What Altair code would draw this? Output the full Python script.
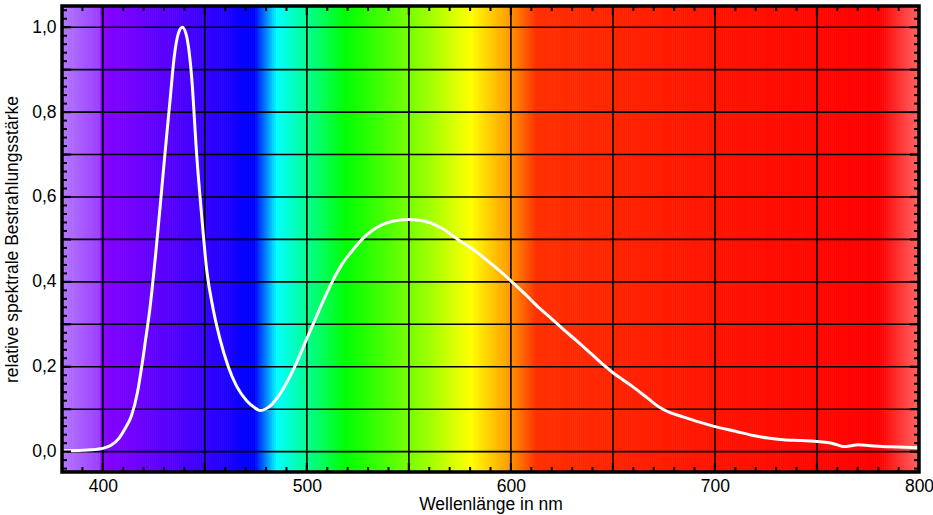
import altair as alt
import pandas as pd

# ---- data ----
wavelengths = [380, 390, 398, 404, 408, 411, 414, 417, 419, 421, 423, 426, 429, 431, 433, 435, 437, 439,
               441, 443.5, 446, 448.5, 451, 454, 457.5, 461.5, 465.5, 470.5, 474, 477, 480, 483, 486,
               489, 492, 495, 499, 503.5, 508, 512.4, 517, 522, 527, 532, 537, 542, 549, 555, 560, 566,
               574, 581, 588, 594, 600.5, 607, 614, 620, 626, 632, 639, 645.7, 650, 655, 660, 667, 673,
               678, 683, 692, 700, 710, 718.7, 726, 733.4, 742, 750, 756, 760, 763, 767, 770, 776, 782,
               790, 800]
irradiance = [0.002, 0.003, 0.006, 0.015, 0.032, 0.055, 0.084, 0.14, 0.198, 0.265, 0.334, 0.47, 0.625,
              0.73, 0.83, 0.93, 0.985, 1.0, 0.98, 0.885, 0.70, 0.553, 0.425, 0.338, 0.264, 0.2, 0.155,
              0.12, 0.105, 0.097, 0.101, 0.112, 0.13, 0.153, 0.18, 0.21, 0.255, 0.305, 0.355, 0.4,
              0.44, 0.472, 0.5, 0.521, 0.535, 0.543, 0.547, 0.545, 0.54, 0.527, 0.5, 0.478, 0.452,
              0.428, 0.4, 0.371, 0.338, 0.313, 0.287, 0.262, 0.232, 0.203, 0.186, 0.169, 0.152, 0.126,
              0.104, 0.092, 0.084, 0.07, 0.059, 0.048, 0.038, 0.032, 0.028, 0.026, 0.024, 0.021, 0.016,
              0.012, 0.014, 0.016, 0.014, 0.012, 0.011, 0.009]

# spectrum background colour stops (wavelength -> colour)
spec_wl = [380, 398.9, 399, 420, 440, 460, 470, 474, 485, 500, 519, 540, 560, 580, 598, 600, 612,
           650, 700, 750, 780, 800]
spec_col = ["#b478ff", "#9a3cff", "#8800ff", "#6a00ff", "#4a00ff", "#2200ff", "#0000ff", "#0000ff",
            "#00ffff", "#00ff90", "#00ff00", "#50ff00", "#a0ff00", "#ffff00", "#ffa000", "#ff9000",
            "#ff3000", "#ff2400", "#ff1400", "#ff0800", "#ff0000", "#ff6464"]

bg_wl = list(range(380, 800))

x_grid = [400, 450, 500, 550, 600, 650, 700, 750]
y_grid = [0.0, 0.1, 0.2, 0.3, 0.4, 0.5, 0.6, 0.7, 0.8, 0.9, 1.0]
x_labels = [400, 500, 600, 700, 800]
y_labels = [0.0, 0.2, 0.4, 0.6, 0.8, 1.0]
x_minor = [w for w in range(390, 800, 10) if w % 50 != 0]
y_minor = [round(-0.04 + 0.02 * i, 2) for i in range(0, 55) if round((-0.04 + 0.02 * i) * 100) % 10 != 0]

W, H = 857, 466
FONT = "Liberation Sans"
FS = 17.5

xs = alt.Scale(domain=[380, 800], nice=False, zero=False)
ys = alt.Scale(domain=[-0.048, 1.05], nice=False, zero=False)

x_axis = alt.Axis(values=x_labels, grid=False, domain=False, ticks=False, tickSize=0,
                  labelPadding=5, labelFlush=False, labelOverlap=False, format="d",
                  labelFont=FONT, labelFontSize=FS, labelColor="black",
                  titleFont=FONT, titleFontSize=FS, titleFontWeight="normal",
                  titleColor="black", titlePadding=1)
y_axis = alt.Axis(values=y_labels, grid=False, domain=False, ticks=False, tickSize=0,
                  labelPadding=6, labelFlush=False, labelOverlap=False,
                  labelExpr="replace(format(datum.value, '.1f'), '.', ',')",
                  labelFont=FONT, labelFontSize=FS, labelColor="black",
                  titleFont=FONT, titleFontSize=FS, titleFontWeight="normal",
                  titleColor="black", titlePadding=10)
X_TITLE = "Wellenlänge in nm"
Y_TITLE = "relative spektrale Bestrahlungsstärke"


def X(field="wl:Q"):
    return alt.X(field, scale=xs, axis=x_axis, title=X_TITLE)


def Y(field="v:Q"):
    return alt.Y(field, scale=ys, axis=y_axis, title=Y_TITLE)


spec_scale = alt.Scale(domain=spec_wl, range=spec_col, interpolate="rgb", clamp=True)
bg_df = pd.DataFrame({"wl": bg_wl})
bg = alt.Chart(bg_df).transform_calculate(wl2="datum.wl + 1").mark_rect(strokeWidth=0.8).encode(
    x=X(),
    x2="wl2:Q",
    y=alt.value(0), y2=alt.value(H),
    color=alt.Color("wl:Q", scale=spec_scale, legend=None),
    stroke=alt.Stroke("wl:Q", scale=spec_scale, legend=None),
)

vgrid = alt.Chart(pd.DataFrame({"wl": x_grid})).mark_rule(color="black", strokeWidth=1.6).encode(x=X())
hgrid = alt.Chart(pd.DataFrame({"v": y_grid})).mark_rule(color="black", strokeWidth=1.6).encode(y=Y())

# ticks (inward)
xmaj = pd.DataFrame({"wl": x_grid})
xmin = pd.DataFrame({"wl": x_minor})
ymaj = pd.DataFrame({"v": y_grid})
ymin = pd.DataFrame({"v": y_minor})


def xticks(df, length, sw):
    b = alt.Chart(df).mark_rule(color="black", strokeWidth=sw).encode(
        x=X(), y=alt.value(H), y2=alt.value(H - length))
    t = alt.Chart(df).mark_rule(color="black", strokeWidth=sw).encode(
        x=X(), y=alt.value(0), y2=alt.value(length))
    return [b, t]


def yticks(df, length, sw):
    l = alt.Chart(df).mark_rule(color="black", strokeWidth=sw).encode(
        y=Y(), x=alt.value(0), x2=alt.value(length))
    r = alt.Chart(df).mark_rule(color="black", strokeWidth=sw).encode(
        y=Y(), x=alt.value(W), x2=alt.value(W - length))
    return [l, r]


ticks = xticks(xmaj, 9, 2.2) + xticks(xmin, 5, 2) + yticks(ymaj, 9, 2.2) + yticks(ymin, 5, 2)

line_df = pd.DataFrame({"wl": wavelengths, "v": irradiance})
line = alt.Chart(line_df).mark_line(color="white", strokeWidth=3, interpolate="monotone").encode(
    x=X(), y=Y())

frame = alt.Chart(pd.DataFrame({"a": [0]})).mark_rect(filled=False, stroke="black", strokeWidth=3.5).encode(
    x=alt.value(0), x2=alt.value(W), y=alt.value(0), y2=alt.value(H))

chart = alt.layer(bg, vgrid, hgrid, line, *ticks, frame).properties(
    width=W, height=H,
    autosize=alt.AutoSizeParams(type="none"),
    padding={"left": 62, "top": 6, "right": 14, "bottom": 43},
).configure_view(stroke=None)

chart.save("out.html", embed_options={"renderer": "svg", "actions": False})
